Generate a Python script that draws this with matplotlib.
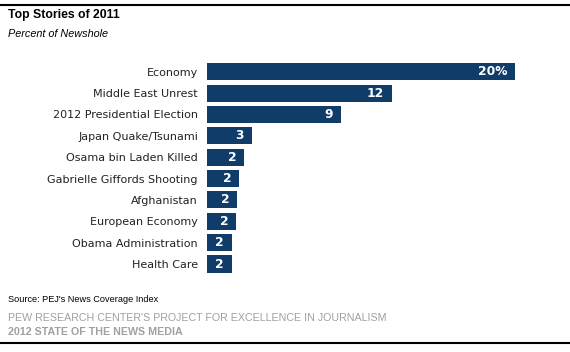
import matplotlib.pyplot as plt
from matplotlib.lines import Line2D

# Dados
stories = ["Economy", "Middle East Unrest", "2012 Presidential Election",
           "Japan Quake/Tsunami", "Osama bin Laden Killed",
           "Gabrielle Giffords Shooting", "Afghanistan", "European Economy",
           "Obama Administration", "Health Care"]
share = [20.0, 12.0, 8.7, 2.9, 2.4, 2.1, 1.95, 1.9, 1.6, 1.6]
labels = ["20%", "12", "9", "3", "2", "2", "2", "2", "2", "2"]

BAR_COLOR = "#103c69"
W, H = 570, 352

fig = plt.figure(figsize=(W / 100, H / 100), dpi=100)
fig.patch.set_facecolor("white")

# eixo das barras
ax = fig.add_axes([207 / W, 1 - 274.7 / H, 308 / W, (274.7 - 61) / H])
pos = list(range(len(stories)))
ax.barh(pos, share, height=0.8, color=BAR_COLOR)
ax.set_xlim(0, 20.0)
ax.set_ylim(len(stories) - 0.5, -0.5)
ax.set_yticks(pos)
ax.set_yticklabels(stories, fontsize=8, color="#222222", family="DejaVu Sans")
ax.tick_params(axis="y", length=0, pad=6.5)
ax.set_xticks([])
for s in ax.spines.values():
    s.set_visible(False)

for p, v, lab in zip(pos, share, labels):
    ax.annotate(lab, (v, p), xytext=(-5.5, 0), textcoords="offset points",
                ha="right", va="center", color="white", fontsize=8.8,
                fontweight="bold", family="DejaVu Sans")

# títulos e notas
fig.text(8 / W, 1 - 15 / H, "Top Stories of 2011", fontsize=8.8,
         fontweight="bold", family="Liberation Sans", va="center")
fig.text(8 / W, 1 - 34 / H, "Percent of Newshole", fontsize=7.8,
         style="italic", family="Liberation Sans", va="center")
fig.text(8 / W, 1 - 300 / H, "Source: PEJ's News Coverage Index", fontsize=6.6,
         family="Liberation Sans", va="center")
fig.text(8 / W, 1 - 318 / H,
         "PEW RESEARCH CENTER'S PROJECT FOR EXCELLENCE IN JOURNALISM",
         fontsize=7.7, color="#a0a0a0", family="Liberation Sans", va="center")
fig.text(8 / W, 1 - 332 / H, "2012 STATE OF THE NEWS MEDIA", fontsize=7.7,
         fontweight="bold", color="#a0a0a0", family="Liberation Sans", va="center")

# linhas de cima e de baixo
fig.add_artist(Line2D([0, 1], [1 - 5 / H, 1 - 5 / H], color="black", lw=1.5))
fig.add_artist(Line2D([0, 1], [1 - 343 / H, 1 - 343 / H], color="black", lw=1.5))

fig.savefig("out.png", dpi=100)
